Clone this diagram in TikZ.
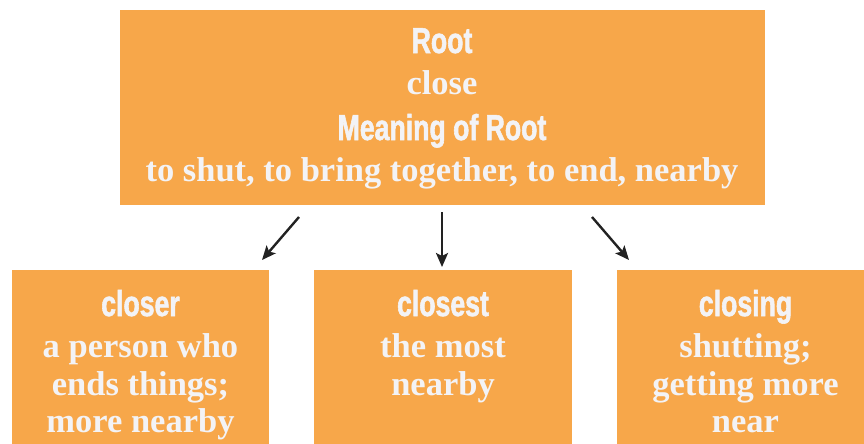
\documentclass[tikz,border=0pt]{standalone}
\usepackage{fontspec}
\usepackage{tikz}
\usetikzlibrary{arrows.meta,positioning}
\newfontfamily\bodyfont{Liberation Serif}
\newfontfamily\headfont[FakeStretch=0.74,FakeBold=1.6]{Liberation Sans}
\definecolor{boxorange}{RGB}{247,167,74}
\definecolor{boxtext}{RGB}{243,243,246}
\definecolor{arrowgray}{RGB}{34,34,34}

\begin{document}
\begin{tikzpicture}[x=1pt,y=-1pt,
	box/.style={fill=boxorange, draw=none, inner sep=0pt},
	head/.style={anchor=base, text=boxtext, font=\headfont\bfseries\fontsize{36}{36}\selectfont},
	body/.style={anchor=base, text=boxtext, font=\bodyfont\bfseries\fontsize{34.5}{34.5}\selectfont},
	arr/.style={draw=arrowgray, line width=2.4pt, -{Stealth[length=14pt,width=12pt,inset=3pt]}}]
		\clip (0,0) rectangle (864,444);

		\node[box, minimum width=645pt, minimum height=195pt] (root) at (442.5,107.5) {};
		\node[box, minimum width=257pt, minimum height=180pt] (closer) at (140.5,360) {};
		\node[box, minimum width=258pt, minimum height=180pt] (closest) at (443,360) {};
		\node[box, minimum width=257pt, minimum height=180pt] (closing) at (745.5,360) {};

		\node[head] (roothead) at (442,53) {Root};
		\node[body] (rootword) at (442,94) {close};
		\node[head] (meaninghead) at (442,140) {Meaning of Root};
		\node[body] (meaning) at (442,181) {to shut, to bring together, to end, nearby};

		\node[head] (closerhead) at (140.5,316) {closer};
		\node[body] (closer1) at (140.5,357) {a person who};
		\node[body] (closer2) at (140.5,395) {ends things;};
		\node[body] (closer3) at (140.5,432) {more nearby};

		\node[head] (closesthead) at (443,316) {closest};
		\node[body] (closest1) at (443,357) {the most};
		\node[body] (closest2) at (443,395) {nearby};

		\node[head] (closinghead) at (745.5,316) {closing};
		\node[body] (closing1) at (745.5,357) {shutting;};
		\node[body] (closing2) at (745.5,395) {getting more};
		\node[body] (closing3) at (745.5,432) {near};

		\coordinate (fromleft) at (299,217);
		\coordinate (toleft) at (262,260);
		\coordinate (frommid) at (442,212);
		\coordinate (tomid) at (442,267);
		\coordinate (fromright) at (592,217);
		\coordinate (toright) at (629,260);
		\draw[arr] (fromleft) -- (toleft);
		\draw[arr] (frommid) -- (tomid);
		\draw[arr] (fromright) -- (toright);
	\end{tikzpicture}
\end{document}
